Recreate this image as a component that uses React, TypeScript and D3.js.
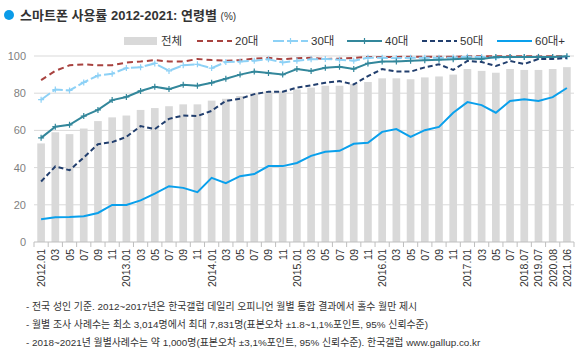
import React, { useEffect, useRef } from 'react';
import * as d3 from 'd3';

const categories = [
  '2012.01', '03', '05', '07', '09', '11',
  '2013.01', '03 ', '05 ', '07 ', '09 ', '11 ',
  '2014.01', '03  ', '05  ', '07  ', '09  ', '11  ',
  '2015.01', '03   ', '05   ', '07   ', '09   ', '11   ',
  '2016.01', '03    ', '05    ', '07    ', '09    ', '11    ',
  '2017.01', '03     ', '05     ', '07     ',
  '2018.07', '2019.07', '2020.08', '2021.06',
];

const total = [
  53, 59, 58, 61, 65, 67, 68, 71, 72, 73, 74, 74, 76, 77, 78.5, 80, 81, 81, 82,
  83, 84, 84, 85, 86, 88, 88, 87.5, 88.5, 89, 90, 93, 92, 91, 93, 92.5, 92.5, 93, 94,
];
const age20 = [
  87, 92, 95, 95.5, 95, 95, 96.5, 97, 97.8, 97, 97, 98.4, 97.8, 97.5, 97.8, 98.6, 99,
  98.2, 98.8, 99, 98.4, 98.6, 99, 99.5, 99.5, 99.5, 99.6, 99.6, 99.6, 99.6, 99.8, 99.8,
  99.8, 99.8, 99.8, 99.8, 99.8, 99.8,
];
const age30 = [
  76.5, 82, 81.5, 85.8, 89.5, 90.5, 93.5, 94, 96, 92, 95, 95.5, 93.5, 96.8, 97, 97.5,
  98.2, 96.5, 97.5, 98.2, 98.4, 98, 97.5, 99, 99, 98.8, 99, 99, 99, 99.2, 99.6, 99.4,
  99, 99.4, 99.4, 99.6, 99.4, 99.6,
];
const age40 = [
  56, 62, 63, 67.7, 71, 76.3, 78, 81.2, 83.5, 82.2, 84.5, 84, 85.6, 87.8, 90, 91.6,
  90.8, 90, 93, 92, 93.7, 94.2, 93, 96, 97, 97.1, 97.5, 97.7, 98, 98.2, 98.6, 98.4,
  99.5, 99.5, 99.5, 99.5, 99.5, 99.8,
];
const age50 = [
  32.5, 40.6, 38.6, 45.4, 52.6, 53.7, 56.5, 62.3, 60.7, 66.2, 68, 67.7, 70.5, 75.9,
  77, 79.5, 80.8, 80.8, 83, 84.2, 85.6, 86.5, 84.7, 89.2, 93, 91.6, 91.6, 93.9, 95.5,
  92.5, 97.3, 96.8, 94.6, 97.3, 95.7, 98.4, 98.4, 98.9,
];
const age60 = [
  12.2, 13.3, 13.5, 13.9, 15.6, 19.9, 19.9, 22.4, 26, 30, 29.1, 26.8, 34.5, 31.6,
  35.4, 36.5, 40.8, 40.8, 42.5, 46.3, 48.5, 49, 52.8, 53.3, 59.2, 60.7, 56.5, 60.1,
  61.9, 69.5, 75.2, 73.6, 69.5, 75.8, 76.8, 75.8, 77.9, 82.8,
];
const yTicks = [0, 20, 40, 60, 80, 100];

const series = [
  { name: '20대', values: age20, color: '#a8423f', dash: '6,4', marker: false },
  { name: '30대', values: age30, color: '#8dd1f6', dash: '11,3', marker: true },
  { name: '40대', values: age40, color: '#33879b', dash: null, marker: true },
  { name: '50대', values: age50, color: '#223f6e', dash: '5,3', marker: false },
  { name: '60대+', values: age60, color: '#0aa0ec', dash: null, marker: false },
];

const notes = [
  '- 전국 성인 기준. 2012~2017년은 한국갤럽 데일리 오피니언 월별 통합 결과에서 홀수 월만 제시',
  '- 월별 조사 사례수는 최소 3,014명에서 최대 7,831명(표본오차 ±1.8~1,1%포인트, 95% 신뢰수준)',
  '- 2018~2021년 월별사례수는 약 1,000명(표본오차 ±3,1%포인트, 95% 신뢰수준). 한국갤럽 www.gallup.co.kr',
];

const FONT = '"Liberation Sans", "Noto Sans CJK KR", sans-serif';

export default function App() {
  const svgRef = useRef<SVGSVGElement>(null);

  useEffect(() => {
    const svg = d3.select(svgRef.current);
    svg.selectAll('*').remove();

    const left = 34;
    const right = 574;
    const x = d3.scaleBand().domain(categories).range([left, right]).paddingInner(0.46).paddingOuter(0.23);
    const xStep = d3.scaleBand().domain(categories).range([left, right]).padding(0);
    const y = d3.scaleLinear().domain([0, 100]).range([242, 56]);
    const cx = (c: string) => (x(c) as number) + x.bandwidth() / 2;

    // title
    svg.append('circle').attr('cx', 9).attr('cy', 15).attr('r', 5).attr('fill', '#0a9be8');
    const title = svg
      .append('text')
      .attr('x', 20)
      .attr('y', 20)
      .attr('font-family', FONT)
      .attr('font-size', 13)
      .attr('font-weight', 'bold')
      .attr('fill', '#333');
    title.append('tspan').text('스마트폰 사용률 2012-2021: 연령별 ');
    title.append('tspan').attr('font-size', 10).attr('font-weight', 'normal').text('(%)');

    // grid
    const grid = svg.append('g');
    grid
      .selectAll('line')
      .data(yTicks.filter((t) => t > 0))
      .join('line')
      .attr('x1', left)
      .attr('x2', right)
      .attr('y1', (d) => y(d))
      .attr('y2', (d) => y(d))
      .attr('stroke', '#d9d9d9')
      .attr('stroke-width', 1);

    grid
      .selectAll('text')
      .data(yTicks)
      .join('text')
      .attr('x', 26)
      .attr('y', (d) => y(d) + 4)
      .attr('text-anchor', 'end')
      .attr('font-family', FONT)
      .attr('font-size', 11)
      .attr('fill', '#7f7f7f')
      .text((d) => d);

    // bars
    svg
      .append('g')
      .selectAll('rect')
      .data(total)
      .join('rect')
      .attr('x', (_, i) => x(categories[i]) as number)
      .attr('width', x.bandwidth())
      .attr('y', (d) => y(d))
      .attr('height', (d) => y(0) - y(d))
      .attr('fill', '#d9d9d9');

    // x axis
    const axis = svg.append('g');
    axis.append('line').attr('x1', left).attr('x2', right).attr('y1', y(0)).attr('y2', y(0)).attr('stroke', '#bfbfbf');
    const bounds = categories.map((c) => xStep(c) as number).concat([right]);
    axis
      .selectAll('line.tick')
      .data(bounds)
      .join('line')
      .attr('class', 'tick')
      .attr('x1', (d) => d)
      .attr('x2', (d) => d)
      .attr('y1', y(0))
      .attr('y2', y(0) + 5)
      .attr('stroke', '#bfbfbf');
    axis
      .selectAll('text')
      .data(categories)
      .join('text')
      .attr('transform', (c) => `translate(${cx(c) + 4},${y(0) + 7}) rotate(-90)`)
      .attr('text-anchor', 'end')
      .attr('font-family', FONT)
      .attr('font-size', 10.5)
      .attr('fill', '#333')
      .text((c) => c.trim());

    // lines
    const line = d3
      .line<number>()
      .x((_, i) => cx(categories[i]))
      .y((d) => y(d));

    series.forEach((s) => {
      svg
        .append('path')
        .datum(s.values)
        .attr('d', line)
        .attr('fill', 'none')
        .attr('stroke', s.color)
        .attr('stroke-width', 2)
        .attr('stroke-dasharray', s.dash);
      if (s.marker) {
        svg
          .append('g')
          .selectAll('path')
          .data(s.values)
          .join('path')
          .attr('d', (d, i) => {
            const px = cx(categories[i]);
            const py = y(d);
            return `M${px - 3},${py}H${px + 3}M${px},${py - 3}V${py + 3}`;
          })
          .attr('stroke', s.color)
          .attr('stroke-width', 1.2);
      }
    });

    // legend
    const lg = svg.append('g').attr('font-family', FONT).attr('font-size', 11.5).attr('fill', '#333');
    lg.append('rect').attr('x', 124).attr('y', 37).attr('width', 33).attr('height', 8).attr('fill', '#d9d9d9');
    lg.append('text').attr('x', 161).attr('y', 45).text('전체');
    const legendX = [197, 273, 347, 422, 497];
    series.forEach((s, i) => {
      const lx = legendX[i];
      lg.append('line')
        .attr('x1', lx)
        .attr('x2', lx + 35)
        .attr('y1', 41)
        .attr('y2', 41)
        .attr('stroke', s.color)
        .attr('stroke-width', 2)
        .attr('stroke-dasharray', s.dash);
      if (s.marker) {
        lg.append('path')
          .attr('d', `M${lx + 17.5},38V44`)
          .attr('stroke', s.color)
          .attr('stroke-width', 1.2);
      }
      lg.append('text').attr('x', lx + 38).attr('y', 45).text(s.name);
    });

    // notes
    svg
      .append('g')
      .selectAll('text')
      .data(notes)
      .join('text')
      .attr('x', 26)
      .attr('y', (_, i) => 310 + i * 18)
      .attr('font-family', FONT)
      .attr('font-size', 9.9)
      .attr('fill', '#333')
      .text((d) => d);
  }, []);

  return (
    <svg
      ref={svgRef}
      width={584}
      height={354}
      style={{ position: 'absolute', left: 0, top: 0, background: '#fff' }}
    />
  );
}
